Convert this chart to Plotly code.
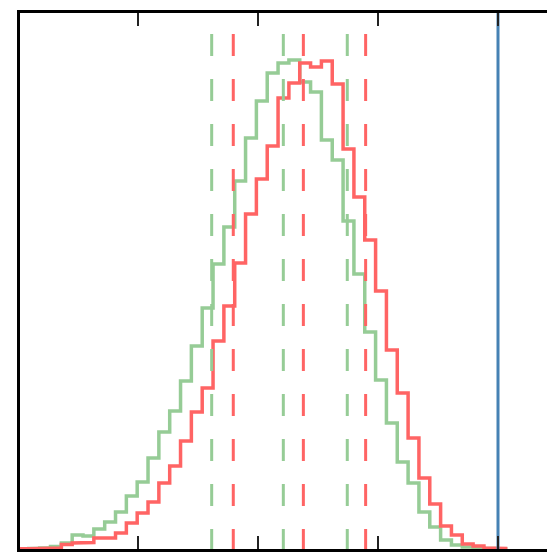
import numpy as np
import plotly.graph_objects as go

# Histogram bins (x in axis units, tick spacing = 1)
bin_start = 0.0
bin_width = 0.0903
green_counts = [0.3, 0.5, 1, 2.5, 6, 14, 13, 20, 27, 37, 53, 67, 91, 117, 138,
                168, 203, 241, 285, 322, 368, 411, 448, 476, 486, 489, 467, 457,
                409, 389, 328, 275, 217, 169, 126, 87, 66, 37, 22, 9, 4, 2, 1, 0.5, 0.2]
red_counts = [0.2, 0.3, 0.5, 1, 4.5, 6, 6.5, 11, 11, 16, 26, 36, 47, 66, 83,
              108, 137, 161, 208, 243, 286, 335, 370, 403, 451, 466, 486, 482,
              488, 465, 400, 352, 309, 258, 199, 156, 111, 71, 45, 23, 14, 5, 3, 1, 0.5]

# Dashed percentile markers
green_lines = [1.614, 2.211, 2.744]
red_lines = [1.794, 2.378, 2.897]
dash_top = 515
# Reference value (blue vertical)
ref_value = 4.0

x_range = [0.0167, 4.4083]
y_range = [0, 536]
tick_vals = [1, 2, 3, 4]

GREEN = "rgb(150,204,150)"
RED = "rgb(255,100,100)"
BLUE = "rgb(70,130,180)"


def step_path(counts):
    counts = np.asarray(counts, dtype=float)
    edges = bin_start + bin_width * np.arange(len(counts) + 1)
    xs = [edges[0]]
    ys = [0.0]
    for i, c in enumerate(counts):
        xs += [edges[i], edges[i + 1]]
        ys += [c, c]
    xs.append(edges[-1])
    ys.append(0.0)
    return xs, ys


fig = go.Figure()

for counts, col in [(green_counts, GREEN), (red_counts, RED)]:
    xs, ys = step_path(counts)
    fig.add_trace(go.Scatter(x=xs, y=ys, mode="lines",
                             line=dict(color=col, width=3.5),
                             hoverinfo="skip", showlegend=False))

for vals, col in [(green_lines, GREEN), (red_lines, RED)]:
    for v in vals:
        fig.add_trace(go.Scatter(x=[v, v], y=[dash_top, 0], mode="lines",
                                 line=dict(color=col, width=3, dash="22px,23px"),
                                 hoverinfo="skip", showlegend=False))

fig.add_trace(go.Scatter(x=[ref_value, ref_value], y=[y_range[0], y_range[1]],
                         mode="lines", line=dict(color=BLUE, width=3),
                         hoverinfo="skip", showlegend=False))

fig.update_layout(
    width=547, height=552,
    margin=dict(l=20, r=0, t=13, b=3, pad=0),
    paper_bgcolor="white", plot_bgcolor="white",
    showlegend=False,
    xaxis=dict(range=x_range, showgrid=False, zeroline=False,
               showline=True, linecolor="black", linewidth=3, mirror="ticks",
               ticks="inside", ticklen=13, tickwidth=2, tickcolor="#222",
               tickvals=tick_vals, showticklabels=False),
    yaxis=dict(range=y_range, showgrid=False, zeroline=False,
               showline=True, linecolor="black", linewidth=3, mirror=False,
               ticks="", showticklabels=False),
)

fig.write_html("out.html")
